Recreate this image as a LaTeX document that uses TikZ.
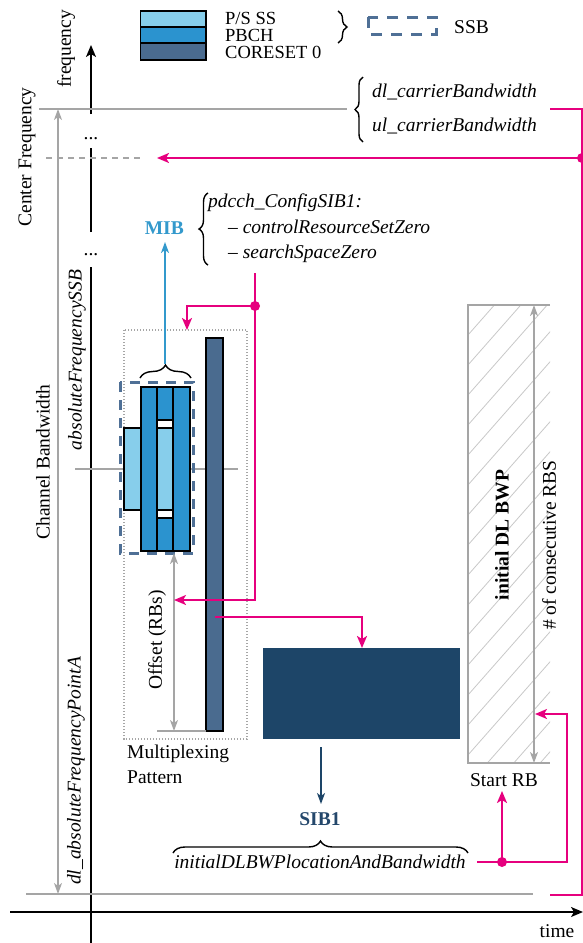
\documentclass[tikz,border=0pt]{standalone}
\usepackage{fontspec}
\setmainfont{Liberation Serif}
\usetikzlibrary{arrows.meta,decorations.pathreplacing,calc}
\definecolor{pss}{RGB}{135,206,235}
\definecolor{pbch}{RGB}{43,147,207}
\definecolor{coreset}{RGB}{74,107,143}
\definecolor{sibblk}{RGB}{29,69,104}
\definecolor{sibtxt}{RGB}{36,71,107}
\definecolor{mibc}{RGB}{51,153,204}
\definecolor{pinkc}{RGB}{230,0,126}
\definecolor{gline}{RGB}{165,165,165}
\definecolor{ssbd}{RGB}{79,112,150}
\definecolor{hatchc}{RGB}{200,200,200}
\begin{document}
\begin{tikzpicture}[x=1pt,y=-1pt,font=\fontsize{19.5}{23}\selectfont,
  every node/.style={inner sep=0pt},
  axisln/.style={line width=1.5pt,black},
  axarrow/.style={axisln,-{Stealth[length=12pt,width=10pt,inset=3pt]}},
  gl/.style={gline,line width=1.5pt},
  gdbl/.style={gl,{Stealth[length=11pt,width=8pt,inset=3pt]}-{Stealth[length=11pt,width=8pt,inset=3pt]}},
  pk/.style={pinkc,line width=2pt},
  pkarrow/.style={pk,-{Stealth[length=12pt,width=10pt,inset=3pt]}},
  pdot/.style={circle,fill=pinkc,minimum size=10pt},
  blk/.style={draw=black,line width=1.8pt},
  brc/.style={decorate,decoration={brace,amplitude=#1},line width=1.4pt},
  ssbdash/.style={ssbd,line width=3pt,dash pattern=on 10pt off 8pt},
  legtext/.style={anchor=base west,font=\fontsize{18.5}{19}\selectfont,text height=12pt,text depth=0pt}]
\useasboundingbox (0,0) rectangle (583,943);

% ---------- legend ----------
\draw[blk,fill=pss] (140.5,10.7) rectangle (206,26.7);
\draw[blk,fill=pbch] (140.5,26.7) rectangle (206,43.3);
\draw[blk,fill=coreset] (140.5,43.3) rectangle (206,60);
\node[legtext] (lgpss) at (225,24.5) {P/S SS};
\node[legtext] (lgpbch) at (225,41.5) {PBCH};
\node[legtext] (lgcor) at (225,58.5) {CORESET 0};
\draw[brc=9pt] (338,11) -- (338,43);
\draw[ssbdash,dash pattern=on 11pt off 9pt] (368,17) rectangle (436,34);
\node[anchor=base west] (lgssb) at (454,33.5) {SSB};

% ---------- axes ----------
\coordinate (fbot) at (91,943);
\coordinate (fmid1) at (91,267);
\coordinate (fmid2) at (91,232);
\coordinate (fmid3) at (91,148);
\coordinate (fmid4) at (91,114);
\coordinate (ftip) at (91,45);
\draw[axisln] (fbot) -- (fmid1);
\draw[axisln] (fmid2) -- (fmid3);
\draw[axarrow] (fmid4) -- (ftip);
\coordinate (tstart) at (10,912);
\coordinate (ttip) at (583,912);
\draw[axarrow] (tstart) -- (ttip);
\node[rotate=90] (freqlbl) at (66,49) {frequency};
\node (timelbl) at (557,931) {time};
\node[anchor=base] (dots1) at (91,139) {...};
\node[anchor=base] (dots2) at (91,255) {...};

% ---------- gray reference lines ----------
\coordinate (gt1) at (39,109); \coordinate (gt2) at (347,109);
\coordinate (gb1) at (26,894); \coordinate (gb2) at (533,894);
\draw[gl] (gt1) -- (gt2);
\draw[gl] (gb1) -- (gb2);
\coordinate (gc1) at (46,158); \coordinate (gc2) at (141,158);
\draw[gl,dash pattern=on 6pt off 5pt] (gc1) -- (gc2);
\coordinate (cbtop) at (58,109); \coordinate (cbbot) at (58,894);
\draw[gdbl] (cbtop) -- (cbbot);
\coordinate (ssbl1) at (75,469); \coordinate (ssbl2) at (238,469);
\draw[gl] (ssbl1) -- (ssbl2);

\node[rotate=90] (cflbl) at (27,157) {Center Frequency};
\node[rotate=90] (cblbl) at (43,462) {Channel Bandwidth};
\node[rotate=90] (afssb) at (77,360) {\itshape absoluteFrequencySSB};
\node[rotate=90] (afpa) at (76,771) {\itshape dl\_absoluteFrequencyPointA};

% ---------- carrier bandwidth ----------
\draw[brc=8pt] (363,142) -- (363,77);
\node[anchor=base west] (dlcb) at (372,97.5) {\itshape dl\_carrierBandwidth};
\node[anchor=base west] (ulcb) at (372,131) {\itshape ul\_carrierBandwidth};
\coordinate (pc1) at (550,109); \coordinate (pc2) at (582,109);
\coordinate (pc3) at (582,895); \coordinate (pc4) at (550,895);
\draw[pk] (pc1) -- (pc2) -- (pc3) -- (pc4);
\node[pdot] (dcf) at (582,158) {};
\coordinate (cfarrow) at (157,158);
\draw[pkarrow] (dcf.center) -- (cfarrow);

% ---------- MIB ----------
\node[anchor=east,font=\fontsize{19.5}{23}\selectfont\bfseries,text=mibc] (mib) at (184,228) {MIB};
\draw[brc=9pt] (208,265) -- (208,193);
\node[anchor=base west] (pdcch) at (208,207.5) {\itshape pdcch\_ConfigSIB1:};
\node[anchor=base west] (crsz) at (228,233.5) {\itshape – controlResourceSetZero};
\node[anchor=base west] (sssz) at (228,258.5) {\itshape – searchSpaceZero};

% ---------- multiplexing box ----------
\draw[gray!70,line width=1.3pt,dash pattern=on 1.3pt off 1.7pt] (124,330) rectangle (247,739);
\node[anchor=base west] (mux1) at (127,758) {Multiplexing};
\node[anchor=base west] (mux2) at (127,783) {Pattern};
\draw[blk,fill=coreset] (206,338) rectangle (223,731);

% SSB
\draw[blk,fill=pss] (124,428) rectangle (141,510);
\draw[blk,fill=pbch] (141,387) rectangle (157,551);
\draw[blk,fill=pbch] (173,387) rectangle (190,551);
\draw[blk,fill=pbch] (157,387) rectangle (173,420);
\draw[blk,fill=white] (157,420) rectangle (173,428);
\draw[blk,fill=pss] (157,428) rectangle (173,510);
\draw[blk,fill=white] (157,510) rectangle (173,518);
\draw[blk,fill=pbch] (157,518) rectangle (173,551);
\draw[ssbdash] (120,382) rectangle (193,553);
\draw[brc=13pt] (140,378) -- (191,378);
\coordinate (brtip) at (165,364);
\draw[mibc,line width=1.6pt,-{Stealth[length=11pt,width=8pt,inset=3pt]}] (brtip) -- (165,242);

% offset
\coordinate (offtop) at (174,553); \coordinate (offbot) at (174,731);
\draw[gdbl] (offtop) -- (offbot);
\draw[gl] (157,731) -- (206,731);
\node[rotate=90] (offlbl) at (157,640) {Offset (RBs)};

% pink from pdcch config
\coordinate (pm1) at (255,273); \coordinate (pm2) at (255,600); \coordinate (pm3) at (174,600);
\draw[pkarrow] (pm1) -- (pm2) -- (pm3);
\node[pdot] (dpm) at (255,306) {};
\draw[pkarrow] (dpm.center) -- (187,306) -- (187,330);

% ---------- SIB1 ----------
\fill[sibblk] (263,648) rectangle (460,739);
\coordinate (ps1) at (215,617);
\draw[pkarrow] (ps1) -- (362,617) -- (362,648);
\draw[sibblk,line width=1.6pt,-{Stealth[length=11pt,width=8pt,inset=3pt]}] (321,747) -- (321,804);
\node[font=\fontsize{19.5}{23}\selectfont\bfseries,text=sibtxt] (sib1) at (320,819) {SIB1};
\draw[brc=12pt] (173,853) -- (468,853);
\node (idl) at (320,862) {\itshape initialDLBWPlocationAndBandwidth};

% ---------- initial DL BWP ----------
\begin{scope}
\clip (468,305) rectangle (550,763);
\foreach \k in {0,...,20}
  \draw[hatchc,line width=0.8pt] (468,305+30*\k) -- ++(220,-250);
\end{scope}
\draw[gl] (550,305) -- (468,305) -- (468,763) -- (550,763);
\coordinate (nrtop) at (534,305); \coordinate (nrbot) at (534,763);
\draw[gdbl] (nrtop) -- (nrbot);
\node[rotate=90,font=\fontsize{19.5}{23}\selectfont\bfseries] (bwp) at (502,535) {initial DL BWP};
\node[rotate=90] (nrlbl) at (549,545) {\# of consecutive RBS};
\node (srb) at (504,780) {Start RB};
\coordinate (pb1) at (477,862);
\draw[pkarrow] (pb1) -- (567,862) -- (567,714) -- (535,714);
\node[pdot] (dpb) at (502,862) {};
\draw[pkarrow] (dpb.center) -- (502,791);
\end{tikzpicture}
\end{document}
